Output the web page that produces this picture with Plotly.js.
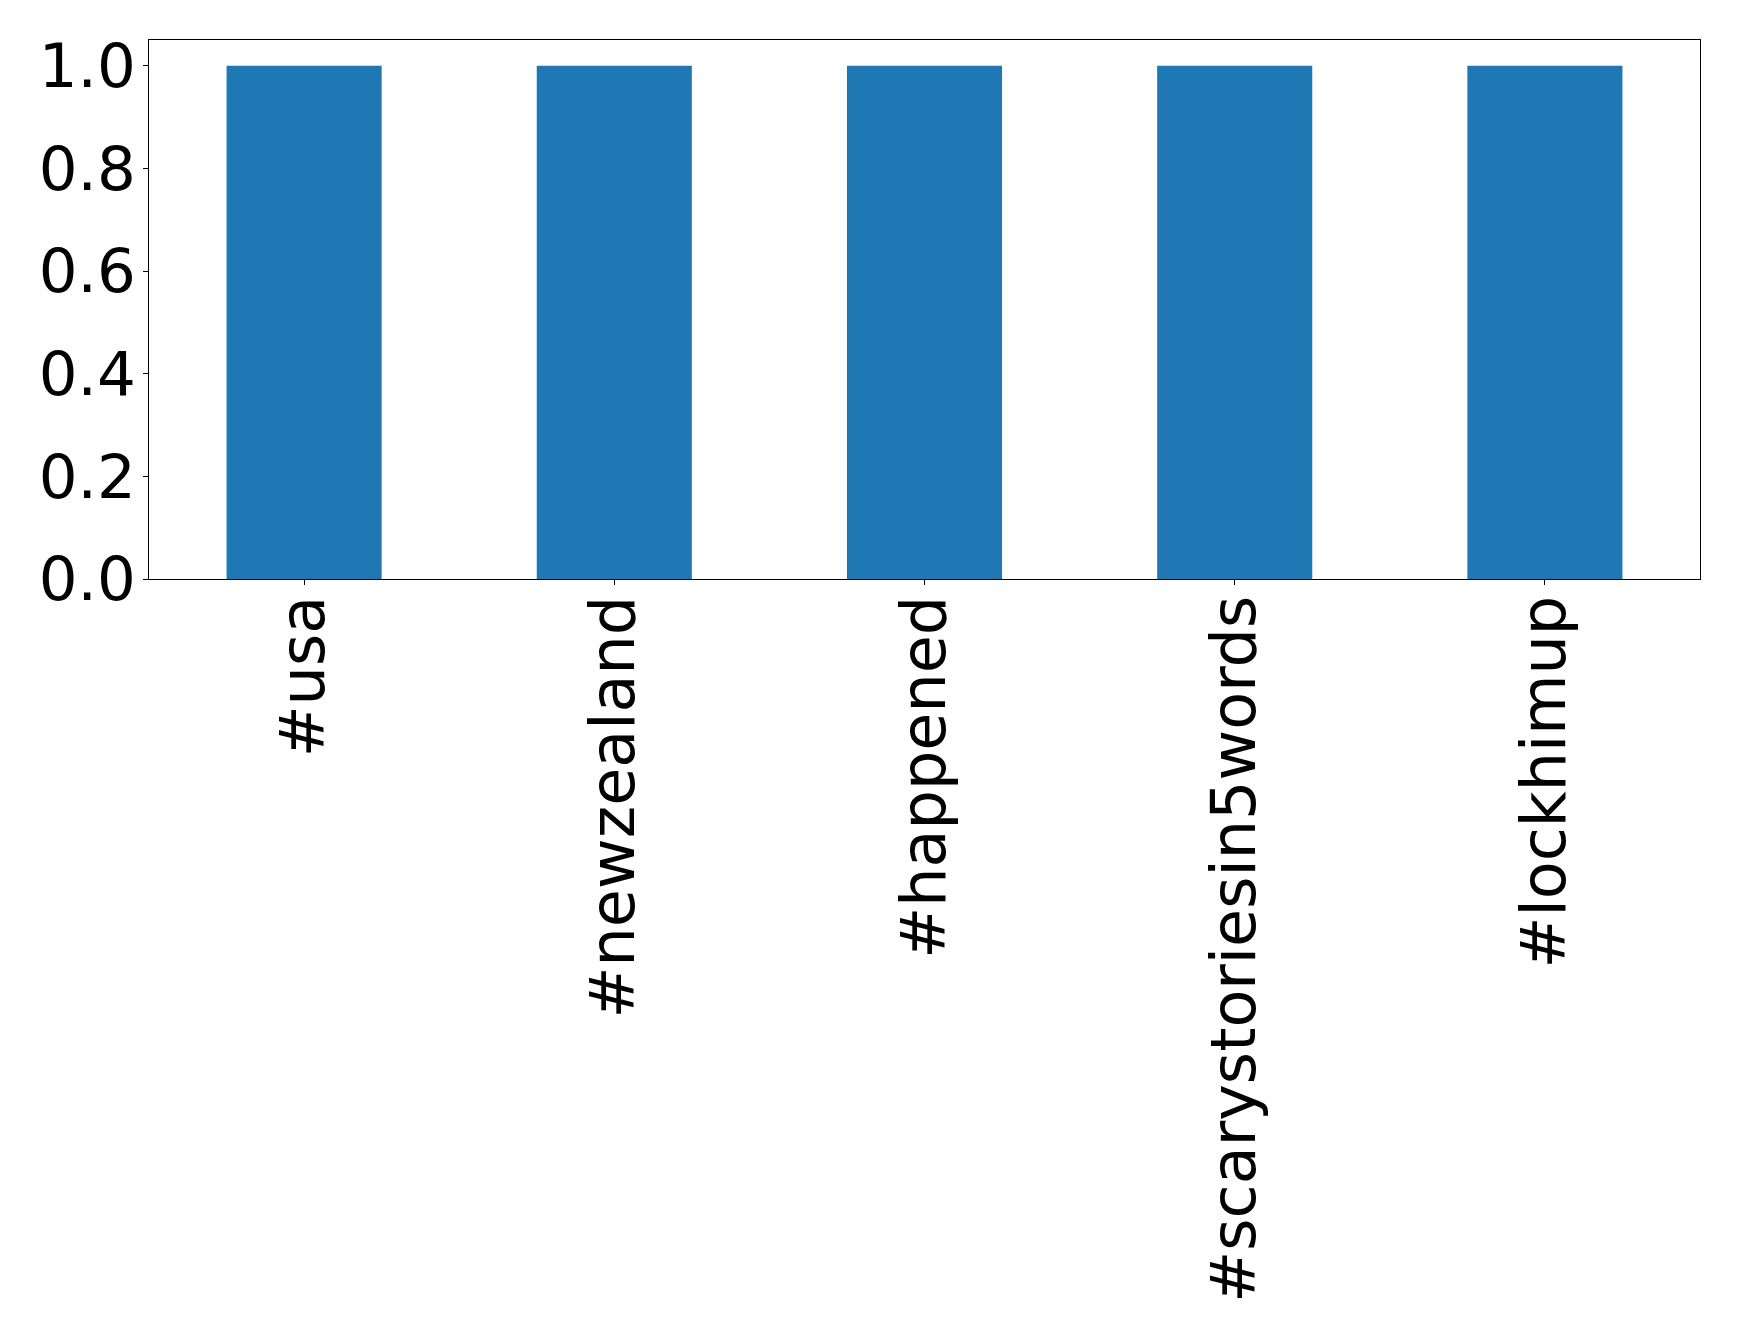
<!DOCTYPE html>
<html>
<head>
<meta charset="utf-8">
<script src="https://cdn.plot.ly/plotly-3.0.1.min.js"></script>
<style>
html, body { margin: 0; padding: 0; background: #ffffff; }
#chart { width: 1739px; height: 1341px; }
</style>
</head>
<body>
<div id="chart"></div>
<script>
const categories = ["#usa", "#newzealand", "#happened", "#scarystoriesin5words", "#lockhimup"];
const values = [1, 1, 1, 1, 1];
const yTickVals = [0, 0.2, 0.4, 0.6, 0.8, 1.0];
const yTickText = ["0.0", "0.2", "0.4", "0.6", "0.8", "1.0"];

const trace = {
  type: "bar",
  x: categories,
  y: values,
  marker: { color: "#1f77b4", line: { width: 0 } },
  hoverinfo: "x+y"
};

const layout = {
  width: 1739,
  height: 1341,
  margin: { l: 149, r: 39, t: 40, b: 762, pad: 0 },
  paper_bgcolor: "#ffffff",
  plot_bgcolor: "#ffffff",
  font: { family: "DejaVu Sans", size: 61, color: "#000000" },
  bargap: 0.5,
  showlegend: false,
  xaxis: {
    type: "category",
    range: [-0.5, 4.5],
    tickangle: -90,
    ticks: "outside",
    ticklen: 5,
    tickwidth: 1,
    tickcolor: "#000000",
    ticklabelstandoff: -14,
    showline: true,
    linecolor: "#000000",
    linewidth: 1,
    mirror: true,
    showgrid: false,
    zeroline: false,
    tickfont: { family: "DejaVu Sans", size: 62, color: "#000000" },
    automargin: false
  },
  yaxis: {
    range: [0, 1.05],
    tickvals: yTickVals,
    ticktext: yTickText,
    ticks: "outside",
    ticklen: 5,
    tickwidth: 1,
    tickcolor: "#000000",
    ticklabelstandoff: -5,
    showline: true,
    linecolor: "#000000",
    linewidth: 1,
    mirror: true,
    showgrid: false,
    zeroline: false,
    tickfont: { family: "DejaVu Sans", size: 61, color: "#000000" },
    automargin: false
  }
};

Plotly.newPlot("chart", [trace], layout, { displayModeBar: false, staticPlot: true });
</script>
</body>
</html>
